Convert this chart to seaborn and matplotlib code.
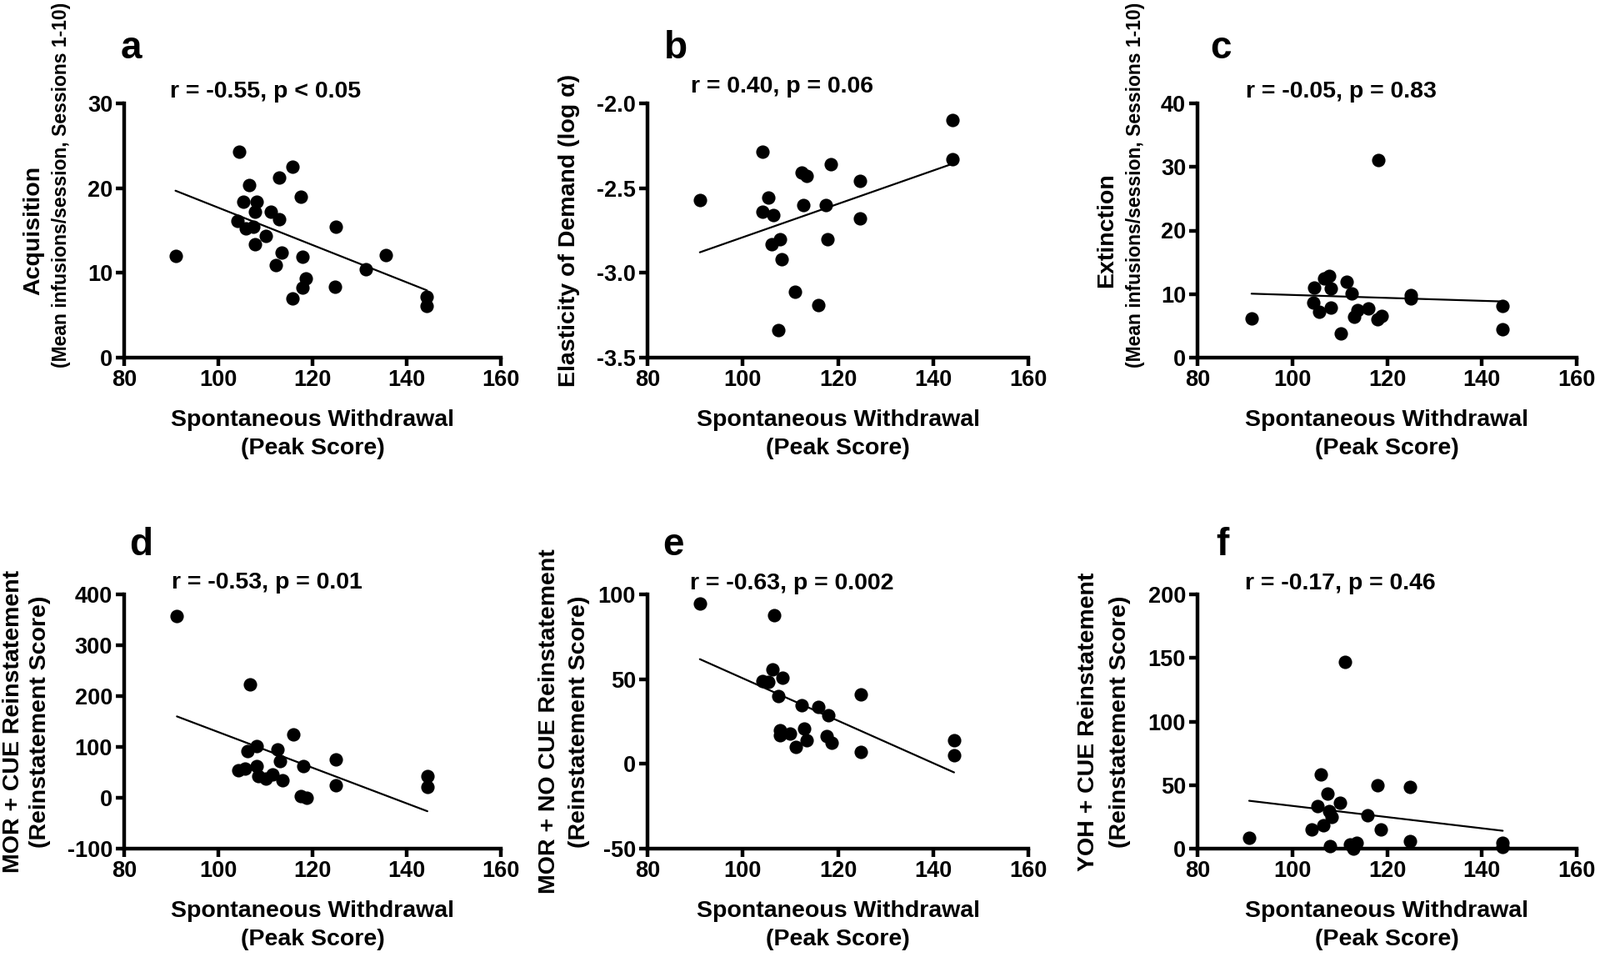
import matplotlib
matplotlib.use('Agg')
import matplotlib.pyplot as plt
import seaborn as sns

# x = spontaneous withdrawal peak score, y = outcome measure
acq_x = [90.9, 104.4, 115.7, 112.9, 106.6, 117.6, 105.3, 108.2, 107.8, 111.2, 112.9, 104.1, 105.9, 107.5,
         110.0, 124.9, 107.8, 113.4, 117.9, 135.5, 112.3, 131.4, 118.5, 117.9, 124.8, 115.7, 144.3, 144.3]
acq_y = [12.0, 24.3, 22.5, 21.2, 20.4, 19.0, 18.4, 18.4, 17.2, 17.2, 16.3, 16.1, 15.2, 15.4,
         14.4, 15.4, 13.4, 12.4, 11.9, 12.1, 10.9, 10.4, 9.3, 8.3, 8.4, 7.0, 7.2, 6.1]

elast_x = [91.0, 104.2, 105.3, 104.1, 106.5, 106.0, 107.8, 108.2, 107.4, 111.0, 112.3, 113.4, 112.7, 115.8,
           118.5, 117.5, 117.8, 124.7, 124.7, 144.1, 144.1]
elast_y = [-2.57, -2.285, -2.557, -2.64, -2.66, -2.83, -2.80, -2.92, -3.34, -3.11, -2.41, -2.43, -2.60, -3.19,
           -2.36, -2.60, -2.80, -2.456, -2.68, -2.10, -2.33]

ext_x = [91.4, 118.1, 104.6, 106.7, 107.7, 108.1, 104.5, 105.7, 108.2, 110.2, 111.4, 112.6, 113.1, 113.8,
         116.1, 118.0, 118.9, 125.0, 125.0, 144.4, 144.4]
ext_y = [6.1, 31.1, 11.0, 12.4, 12.9, 10.9, 8.7, 7.2, 7.9, 3.8, 11.9, 10.1, 6.4, 7.5,
         7.8, 6.0, 6.5, 9.9, 9.25, 8.1, 4.5]

mor_cue_x = [91.2, 106.8, 116.0, 108.1, 106.2, 112.5, 113.1, 118.1, 125.0, 104.2, 105.7, 108.1, 108.5, 110.1,
             111.5, 113.6, 125.0, 117.6, 118.8, 144.4, 144.4]
mor_cue_y = [357, 223, 125, 101, 92, 95, 72, 62, 75, 54, 58, 62, 43, 38,
             46, 34, 25, 3, 0, 43, 22]

mor_nocue_x = [91.0, 106.6, 106.2, 104.2, 105.4, 108.3, 107.5, 112.4, 115.9, 118.0, 124.9, 107.8, 107.9, 110.0,
               112.9, 113.5, 111.2, 117.7, 118.7, 124.8, 144.4, 144.4]
mor_nocue_y = [94.8, 87.7, 55.9, 49.0, 48.5, 51.0, 40.0, 34.8, 33.8, 28.9, 41.0, 19.9, 16.7, 17.8,
               20.9, 13.9, 9.8, 16.2, 12.7, 6.9, 13.9, 4.9]

yoh_x = [90.9, 106.1, 107.5, 105.4, 110.1, 107.8, 108.3, 111.1, 104.1, 106.6, 107.9, 112.2, 113.6, 112.8,
         115.8, 117.9, 118.6, 124.9, 124.9, 144.4, 144.4]
yoh_y = [8.7, 58.3, 43.5, 33.7, 35.9, 29.3, 25.0, 147.2, 14.8, 18.5, 1.7, 3.3, 4.8, 0.0,
         26.5, 49.6, 14.8, 48.5, 6.1, 4.8, 1.1]

x_ticks = [80, 100, 120, 140, 160]
acq_ticks = [0, 10, 20, 30]
elast_ticks = [-3.5, -3.0, -2.5, -2.0]
elast_labels = ['-3.5', '-3.0', '-2.5', '-2.0']
ext_ticks = [0, 10, 20, 30, 40]
mor_cue_ticks = [-100, 0, 100, 200, 300, 400]
mor_nocue_ticks = [-50, 0, 50, 100]
yoh_ticks = [0, 50, 100, 150, 200]

stats = ['r = -0.55, p < 0.05', 'r = 0.40, p = 0.06', 'r = -0.05, p = 0.83',
         'r = -0.53, p = 0.01', 'r = -0.63, p = 0.002', 'r = -0.17, p = 0.46']
letters = ['a', 'b', 'c', 'd', 'e', 'f']

sns.set_style('ticks')
plt.rcParams['font.family'] = ['Liberation Sans', 'DejaVu Sans']
plt.rcParams['font.weight'] = 'bold'
plt.rcParams['axes.unicode_minus'] = False
for k in ['text.color', 'axes.labelcolor', 'xtick.color', 'ytick.color', 'axes.edgecolor']:
    plt.rcParams[k] = 'black'

W, H = 1920, 1148
fig = plt.figure(figsize=(19.2, 11.48), dpi=100)


def px_axes(left, top, right, bottom):
    return fig.add_axes([left / W, 1 - bottom / H, (right - left) / W, (bottom - top) / H])


def ftext(x, y, s, **kw):
    fig.text(x / W, 1 - y / H, s, fontweight='bold', **kw)


def draw_panel(ax, x, y, ylim, yticks, ylabels=None):
    sns.regplot(x=x, y=y, ax=ax, ci=None, truncate=True, color='black',
                scatter_kws={'s': 135, 'linewidths': 0, 'alpha': 1, 'clip_on': False, 'zorder': 4},
                line_kws={'linewidth': 1.6, 'zorder': 3})
    ax.set_xlim(80, 160)
    ax.set_ylim(*ylim)
    ax.set_xticks(x_ticks)
    ax.set_yticks(yticks)
    if ylabels is not None:
        ax.set_yticklabels(ylabels)
    sns.despine(ax=ax)
    for side in ['left', 'bottom']:
        ax.spines[side].set_linewidth(3.2)
    ax.tick_params(width=3.2, length=7, labelsize=19.5, pad=3)
    for lab in ax.get_xticklabels() + ax.get_yticklabels():
        lab.set_fontweight('bold')
    ax.set_xlabel('')
    ax.set_ylabel('')


# pixel boxes (left, top, right, bottom)
top_row = (124, 429)
bot_row = (713, 1018)
cols = [(149, 601), (777, 1234), (1437, 1892)]

ax_a = px_axes(cols[0][0], top_row[0], cols[0][1], top_row[1])
ax_b = px_axes(cols[1][0], top_row[0], cols[1][1], top_row[1])
ax_c = px_axes(cols[2][0], top_row[0], cols[2][1], top_row[1])
ax_d = px_axes(cols[0][0], bot_row[0], cols[0][1], bot_row[1])
ax_e = px_axes(cols[1][0], bot_row[0], cols[1][1], bot_row[1])
ax_f = px_axes(cols[2][0], bot_row[0], cols[2][1], bot_row[1])

draw_panel(ax_a, acq_x, acq_y, (0, 30), acq_ticks)
draw_panel(ax_b, elast_x, elast_y, (-3.5, -2.0), elast_ticks, elast_labels)
draw_panel(ax_c, ext_x, ext_y, (0, 40), ext_ticks)
draw_panel(ax_d, mor_cue_x, mor_cue_y, (-100, 400), mor_cue_ticks)
draw_panel(ax_e, mor_nocue_x, mor_nocue_y, (-50, 100), mor_nocue_ticks)
draw_panel(ax_f, yoh_x, yoh_y, (0, 200), yoh_ticks)

# panel letters
letter_pos = [(157, 58), (811, 58), (1465, 58), (169, 654), (808, 654), (1467, 654)]
for (lx, ly), l in zip(letter_pos, letters):
    ftext(lx, ly, l, fontsize=33, ha='center', va='center')

# correlation stats
stat_pos = [(204, 110), (829, 104), (1495, 110), (206, 699), (828, 700), (1494, 700)]
for (sx, sy), s in zip(stat_pos, stats):
    ftext(sx, sy, s, fontsize=20.5, ha='left', va='center')

# x labels
for (l, r) in cols:
    cx = (l + r) / 2
    for row_bottom in (top_row[1], bot_row[1]):
        ftext(cx, row_bottom + 75, 'Spontaneous Withdrawal', fontsize=20.5, ha='center', va='center')
        ftext(cx, row_bottom + 109, '(Peak Score)', fontsize=20.5, ha='center', va='center')

# y labels
top_mid = sum(top_row) / 2
bot_mid = sum(bot_row) / 2
ftext(40, top_mid, 'Acquisition', fontsize=20.5, rotation=90, ha='center', va='center')
ftext(74, 3, '(Mean infusions/session, Sessions 1-10)', fontsize=16.5, rotation=90, ha='center', va='top')
ftext(683, top_mid, 'Elasticity of Demand (log \u03b1)', fontsize=20.5, rotation=90, ha='center', va='center')
ftext(1328, top_mid, 'Extinction', fontsize=20.5, rotation=90, ha='center', va='center')
ftext(1362, 3, '(Mean infusions/session, Sessions 1-10)', fontsize=16.5, rotation=90, ha='center', va='top')
ftext(16, bot_mid, 'MOR + CUE Reinstatement', fontsize=20.5, rotation=90, ha='center', va='center')
ftext(48, bot_mid, '(Reinstatement Score)', fontsize=20.5, rotation=90, ha='center', va='center')
ftext(659, bot_mid, 'MOR + NO CUE Reinstatement', fontsize=20.5, rotation=90, ha='center', va='center')
ftext(695, bot_mid, '(Reinstatement Score)', fontsize=20.5, rotation=90, ha='center', va='center')
ftext(1306, bot_mid, 'YOH + CUE Reinstatement', fontsize=20.5, rotation=90, ha='center', va='center')
ftext(1344, bot_mid, '(Reinstatement Score)', fontsize=20.5, rotation=90, ha='center', va='center')

fig.savefig('out.png', dpi=100)
